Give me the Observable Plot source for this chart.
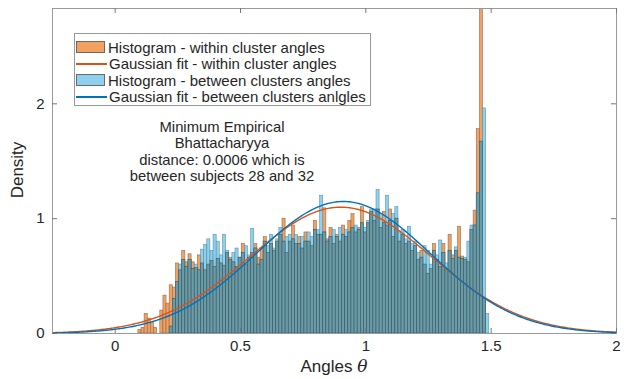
<!DOCTYPE html>
<html><head><meta charset="utf-8">
<script src="https://cdn.jsdelivr.net/npm/d3@7"></script>
<script src="https://cdn.jsdelivr.net/npm/@observablehq/plot@0.6"></script>
<style>
body{margin:0;background:#fff;}
#wrap{position:relative;width:628px;height:379px;font-family:"Liberation Sans",Arial,Helvetica,sans-serif;color:#262626;}
#legend{position:absolute;left:74px;top:33px;width:297px;height:73px;border:1px solid #9a9a9a;background:#fff;box-sizing:border-box;}
.row{position:absolute;left:0;height:16px;display:flex;align-items:center;font-size:15px;white-space:nowrap;}
.sw{width:29px;height:12px;margin-left:1px;margin-right:3px;box-sizing:border-box;border:1px solid #6a6a6a;}
.ln{width:31px;height:2px;margin-left:1px;margin-right:2px;}
#note{position:absolute;left:105px;width:234px;top:119px;text-align:center;font-size:14.8px;line-height:16.3px;}
#xlab{position:absolute;left:234px;width:200px;top:356px;text-align:center;font-size:17px;}
#ylab{position:absolute;left:-32px;width:100px;top:160px;text-align:center;font-size:17px;transform:rotate(-90deg);}
</style></head><body>
<div id="wrap"></div>
<script>
// ---- data ----
const binStart = 0.0925;
const binWidth = 0.0125;
const withinDensity = [0.03,0.05,0.17,0.13,0.09,0.05,0,0.20,0.33,0.26,
0.42,0.40,0.61,0.55,0.72,0.62,0.69,0.62,0.57,0.68,
0.61,0.55,0.60,0.63,0.58,0.65,0.61,0.59,0.70,0.66,
0.62,0.58,0.66,0.78,0.60,0.66,0.70,0.78,0.66,0.74,
0.84,0.70,0.78,0.72,0.80,0.86,1.00,0.70,0.80,0.94,
0.78,0.84,0.74,0.88,0.80,0.76,0.98,0.86,0.86,1.09,
0.82,0.92,0.78,0.86,0.80,0.94,0.84,0.98,1.04,0.88,
0.92,1.10,0.88,0.96,1.06,0.98,1.08,0.92,1.06,0.94,
1.08,0.84,1.00,0.80,0.86,0.78,0.80,0.72,0.76,0.64,
0.72,0.60,0.52,0.56,0.78,0.64,0.58,0.78,0.56,0.86,
0.68,0.72,0.93,0.67,0.64,0.62,0.90,1.07,1.78,3.40,
0.30,0];
const betweenDensity = [0,0,0,0,0,0,0,0,0,0,
0.06,0.30,0.45,0.60,0.64,0.58,0.64,0.56,0.60,0.55,
0.73,0.77,0.82,0.72,0.86,0.80,0.68,0.86,0.72,0.64,
0.70,0.74,0.66,0.70,0.76,0.68,0.91,0.74,0.60,0.64,
0.80,0.76,0.86,0.74,0.82,0.92,0.80,0.84,0.86,0.82,
0.86,0.78,0.84,0.80,0.88,0.84,0.90,0.90,1.20,0.88,
0.80,0.84,0.90,0.84,0.92,0.86,0.90,0.88,0.92,0.94,
0.90,0.96,0.92,0.98,1.08,1.08,1.25,1.04,0.96,1.20,
0.98,1.04,1.10,0.88,0.90,0.82,0.93,0.78,0.80,0.70,
0.66,0.76,0.72,0.60,0.72,0.68,0.81,0.70,0.61,0.72,
0.65,0.75,0.66,0.65,0.66,0.80,0.94,0.94,1.22,1.67,
1.96,0.17];
const fitNames = ["Gaussian fit - within cluster angles","Gaussian fit - between clusters anlgles"];
const fitMean = [0.900, 0.910];
const fitSigma = [0.3627, 0.347];
const xTicks = [0, 0.5, 1, 1.5, 2];
const yTicks = [0, 1, 2];
const histNames = ["Histogram - within cluster angles","Histogram - between clusters angles"];
const noteLines = ["Minimum Empirical","Bhattacharyya","distance: 0.0006 which is","between subjects 28 and 32"];

// ---- colours ----
const orangeFill = "#f2a161", blueFill = "#8fd0ee", tealFill = "#6a9ba6";
const orangeLine = "#d95319", blueLine = "#0072bd";

const bins = withinDensity.map((w, i) => ({
  x1: binStart + i * binWidth, x2: binStart + (i + 1) * binWidth,
  within: w, between: betweenDensity[i], overlap: Math.min(w, betweenDensity[i])
}));
const curveX = d3.range(-0.25, 2.0001, 0.005);
const curves = fitNames.flatMap((name, k) => curveX.map(x => ({
  name, x,
  y: Math.exp(-0.5 * ((x - fitMean[k]) / fitSigma[k]) ** 2) / (fitSigma[k] * Math.sqrt(2 * Math.PI))
})));

const W = 628, H = 379, mL = 52, mR = 12, mT = 8, mB = 46;
const pw = W - mL - mR, ph = H - mT - mB, tk = 5;

const chart = Plot.plot({
  width: W, height: H,
  marginLeft: mL, marginRight: mR, marginTop: mT, marginBottom: mB,
  style: {fontFamily: '"Liberation Sans",Arial,Helvetica,sans-serif', fontSize: "15px", color: "#262626", background: "#fff"},
  x: {domain: [-0.25, 2]},
  y: {domain: [0, 2.83]},
  color: {domain: fitNames, range: [orangeLine, blueLine]},
  marks: [
    Plot.rectY(bins.filter(d => d.within > 0), {x1: "x1", x2: "x2", y: "within", fill: orangeFill, stroke: "#7a5a40", strokeWidth: 0.6, strokeOpacity: 0.8, clip: true}),
    Plot.rectY(bins.filter(d => d.between > 0), {x1: "x1", x2: "x2", y: "between", fill: blueFill, stroke: "#4a7f95", strokeWidth: 0.6, strokeOpacity: 0.8, clip: true}),
    Plot.rectY(bins.filter(d => d.overlap > 0), {x1: "x1", x2: "x2", y: "overlap", fill: tealFill, stroke: "#34545c", strokeWidth: 0.6, strokeOpacity: 0.9, clip: true}),
    Plot.line(curves, {x: "x", y: "y", z: "name", stroke: "name", strokeWidth: 1.4, clip: true}),
    Plot.frame({stroke: "#9a9a9a"}),
    Plot.tickX(xTicks, {x: d => d, stroke: "#777", insetTop: ph - tk}),
    Plot.tickX(xTicks, {x: d => d, stroke: "#777", insetBottom: ph - tk}),
    Plot.tickY(yTicks, {y: d => d, stroke: "#777", insetRight: pw - tk}),
    Plot.tickY(yTicks, {y: d => d, stroke: "#777", insetLeft: pw - tk}),
    Plot.axisX(xTicks, {tickSize: 0, tickPadding: 7, label: null, tickFormat: d => String(d), fontSize: 15, fill: "#262626"}),
    Plot.axisY(yTicks, {tickSize: 0, tickPadding: 8, label: null, tickFormat: d => String(d), fontSize: 15, fill: "#262626"})
  ]
});

const wrap = document.getElementById("wrap");
wrap.appendChild(chart);

// legend
const legend = document.createElement("div");
legend.id = "legend";
const items = [
  {label: histNames[0], kind: "sw", color: orangeFill},
  {label: fitNames[0], kind: "ln", color: orangeLine},
  {label: histNames[1], kind: "sw", color: blueFill},
  {label: fitNames[1], kind: "ln", color: blueLine}
];
items.forEach((it, i) => {
  const r = document.createElement("div");
  r.className = "row";
  r.style.top = (5 + i * 16.5) + "px";
  const s = document.createElement("span");
  s.className = it.kind;
  s.style.background = it.color;
  r.appendChild(s);
  const t = document.createElement("span");
  t.textContent = it.label;
  r.appendChild(t);
  legend.appendChild(r);
});
wrap.appendChild(legend);

const note = document.createElement("div");
note.id = "note";
note.innerHTML = noteLines.map(l => `<div>${l}</div>`).join("");
wrap.appendChild(note);

const xl = document.createElement("div");
xl.id = "xlab";
xl.innerHTML = 'Angles <i style="font-family:\'DejaVu Serif\',serif">θ</i>';
wrap.appendChild(xl);

const yl = document.createElement("div");
yl.id = "ylab";
yl.textContent = "Density";
wrap.appendChild(yl);
</script>
</body></html>
